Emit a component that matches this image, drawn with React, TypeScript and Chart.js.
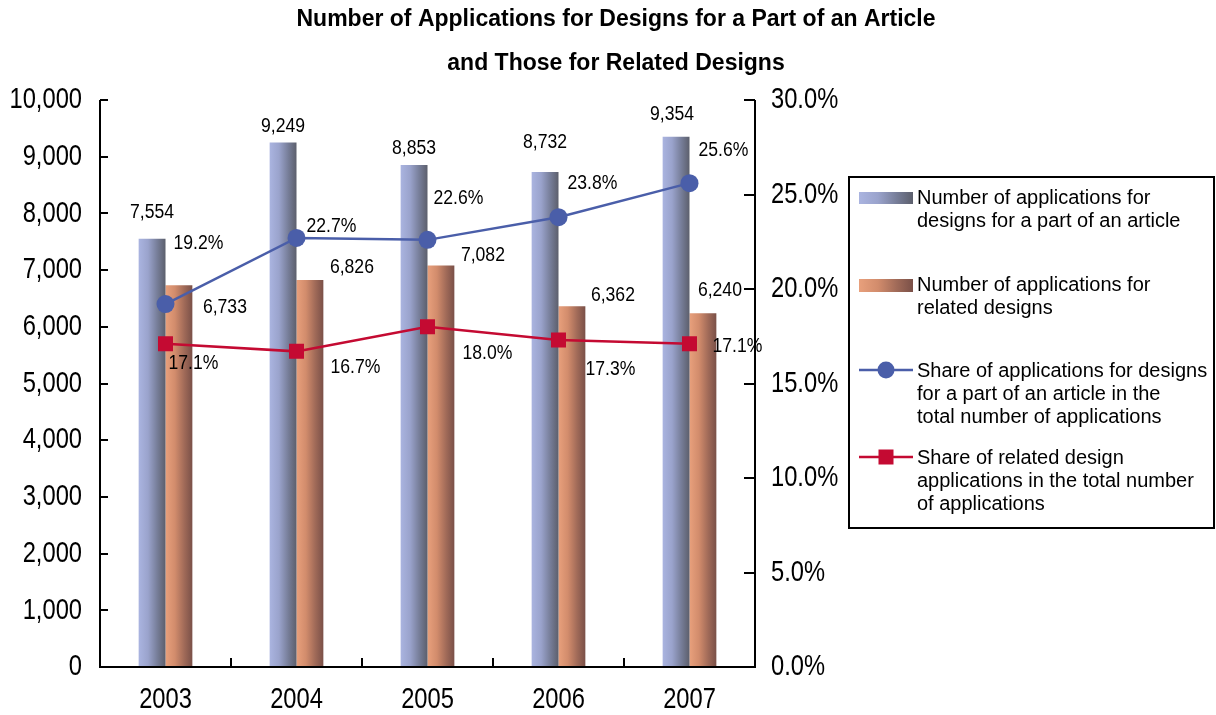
import React, { useEffect, useRef } from "react";
import { Chart, registerables } from "chart.js";

Chart.register(...registerables);

const categories = ["2003", "2004", "2005", "2006", "2007"];
const partArticleApps = [7554, 9249, 8853, 8732, 9354];
const relatedDesignApps = [6733, 6826, 7082, 6362, 6240];
const partArticleShare = [19.2, 22.7, 22.6, 23.8, 25.6];
const relatedShare = [17.1, 16.7, 18.0, 17.3, 17.1];

const titleLines = [
  "Number of Applications for Designs for a Part of an Article",
  "and Those for Related Designs",
];
const legendTexts = [
  ["Number of applications for", "designs for a part of an article"],
  ["Number of applications for", "related designs"],
  ["Share of applications for designs", "for a part of an article in the", "total number of applications"],
  ["Share of related design", "applications in the total number", "of applications"],
];

// label nudges (dx, dy from each mark's anchor to label centre)
const barLabelNudgeA = [[0, -26], [0, -16], [0, -17], [0, -29], [-4, -22]];
const barLabelNudgeB = [[46, 22], [42, -12], [42, -10], [41, -11], [17, -23]];
const lineLabelNudgeA = [[33, -61], [35, -11], [31, -41], [34, -34], [34, -33]];
const lineLabelNudgeB = [[28, 20], [59, 16], [60, 27], [52, 29], [48, 3]];

const CAT_PCT = 0.41;
const SANS = '"Liberation Sans", Arial, sans-serif';
const BLUE = "#4a5ea9";
const RED = "#c40a32";
const TICK_SX = 0.79;
const LABEL_SX = 0.88;

function blueGrad(ctx: CanvasRenderingContext2D, x0: number, x1: number) {
  const g = ctx.createLinearGradient(x0, 0, x1, 0);
  g.addColorStop(0, "#aab4e0");
  g.addColorStop(0.35, "#9aa3cc");
  g.addColorStop(0.7, "#767d98");
  g.addColorStop(1, "#5c5f6c");
  return g;
}
function orangeGrad(ctx: CanvasRenderingContext2D, x0: number, x1: number) {
  const g = ctx.createLinearGradient(x0, 0, x1, 0);
  g.addColorStop(0, "#e8a07c");
  g.addColorStop(0.35, "#d28c6c");
  g.addColorStop(0.7, "#a06a58");
  g.addColorStop(1, "#7a5048");
  return g;
}

function barFill(which: number) {
  return (c: any) => {
    const chart = c.chart;
    const xs = chart.scales && chart.scales.x;
    if (!xs || c.type !== "data" || !chart.chartArea) return which === 0 ? "#8d96c0" : "#c07c62";
    const center = xs.getPixelForValue(c.dataIndex);
    const w = (xs.width / categories.length) * CAT_PCT / 2;
    const left = which === 0 ? center - w : center;
    return which === 0 ? blueGrad(chart.ctx, left, left + w) : orangeGrad(chart.ctx, left, left + w);
  };
}

const fmt = (v: number) => v.toLocaleString("en-US");

function drawScaled(
  ctx: CanvasRenderingContext2D,
  text: string,
  x: number,
  y: number,
  align: CanvasTextAlign,
  sx: number
) {
  ctx.save();
  ctx.translate(x, y);
  ctx.scale(sx, 1);
  ctx.textAlign = align;
  ctx.textBaseline = "middle";
  ctx.fillText(text, 0, 0);
  ctx.restore();
}

const overlayPlugin = {
  id: "overlay",
  afterDatasetsDraw(chart: any) {
    const ctx = chart.ctx as CanvasRenderingContext2D;
    const { left, right, top, bottom } = chart.chartArea;
    const ys = chart.scales.y;
    const y1 = chart.scales.y1;
    const xs = chart.scales.x;
    ctx.save();
    ctx.strokeStyle = "#000";
    ctx.lineWidth = 2;
    ctx.beginPath();
    ctx.moveTo(left, top);
    ctx.lineTo(left, bottom);
    ctx.moveTo(left - 1, bottom);
    ctx.lineTo(right + 1, bottom);
    ctx.moveTo(right, top);
    ctx.lineTo(right, bottom);
    ys.ticks.forEach((t: any) => {
      const p = Math.round(ys.getPixelForValue(t.value));
      ctx.moveTo(left, p);
      ctx.lineTo(left + 8, p);
    });
    y1.ticks.forEach((t: any) => {
      const p = Math.round(y1.getPixelForValue(t.value));
      ctx.moveTo(right, p);
      ctx.lineTo(right - 11, p);
    });
    for (let i = 1; i < categories.length; i++) {
      const p = (xs.getPixelForValue(i - 1) + xs.getPixelForValue(i)) / 2;
      ctx.moveTo(p, bottom);
      ctx.lineTo(p, bottom - 9);
    }
    ctx.stroke();

    // tick labels
    ctx.fillStyle = "#000";
    ctx.font = `30px ${SANS}`;
    ys.ticks.forEach((t: any) => {
      drawScaled(ctx, fmt(t.value), left - 18, ys.getPixelForValue(t.value), "right", TICK_SX);
    });
    y1.ticks.forEach((t: any) => {
      drawScaled(ctx, Number(t.value).toFixed(1) + "%", right + 16, y1.getPixelForValue(t.value), "left", TICK_SX);
    });
    categories.forEach((c, i) => {
      drawScaled(ctx, c, xs.getPixelForValue(i), bottom + 33, "center", TICK_SX);
    });

    // data labels
    ctx.font = `20px ${SANS}`;
    const specs = [
      { ds: 0, nudge: barLabelNudgeA, text: (i: number) => fmt(partArticleApps[i]) },
      { ds: 1, nudge: barLabelNudgeB, text: (i: number) => fmt(relatedDesignApps[i]) },
      { ds: 2, nudge: lineLabelNudgeA, text: (i: number) => partArticleShare[i].toFixed(1) + "%" },
      { ds: 3, nudge: lineLabelNudgeB, text: (i: number) => relatedShare[i].toFixed(1) + "%" },
    ];
    specs.forEach((s) => {
      const meta = chart.getDatasetMeta(s.ds);
      meta.data.forEach((el: any, i: number) => {
        drawScaled(ctx, s.text(i), el.x + s.nudge[i][0], el.y + s.nudge[i][1], "center", LABEL_SX);
      });
    });
    ctx.restore();
  },
  afterDraw(chart: any) {
    const ctx = chart.ctx as CanvasRenderingContext2D;
    ctx.save();
    // title
    ctx.fillStyle = "#000";
    ctx.font = `bold 23px ${SANS}`;
    ctx.textAlign = "center";
    ctx.textBaseline = "middle";
    ctx.fillText(titleLines[0], 616, 20);
    ctx.fillText(titleLines[1], 616, 64);

    // legend
    const bx = chart.width - 367;
    const by = 177;
    ctx.strokeStyle = "#000";
    ctx.lineWidth = 2;
    ctx.strokeRect(bx, by, 365, 351);
    const sx = bx + 10;
    const sw = 54;
    const tx = bx + 68;
    const firstY = [198, 285, 371, 458];
    ctx.font = `20px ${SANS}`;
    ctx.textAlign = "left";
    legendTexts.forEach((lines, k) => {
      const y0 = firstY[k];
      lines.forEach((ln, j) => ctx.fillText(ln, tx, y0 + j * 23));
    });
    // swatches
    ctx.fillStyle = blueGrad(ctx, sx, sx + sw);
    ctx.fillRect(sx, 192, sw, 12);
    ctx.fillStyle = orangeGrad(ctx, sx, sx + sw);
    ctx.fillRect(sx, 279, sw, 13);
    ctx.lineWidth = 2.5;
    ctx.strokeStyle = BLUE;
    ctx.beginPath();
    ctx.moveTo(sx, 370);
    ctx.lineTo(sx + sw, 370);
    ctx.stroke();
    ctx.fillStyle = BLUE;
    ctx.beginPath();
    ctx.arc(sx + sw / 2, 370, 8.5, 0, Math.PI * 2);
    ctx.fill();
    ctx.strokeStyle = RED;
    ctx.beginPath();
    ctx.moveTo(sx, 457);
    ctx.lineTo(sx + sw, 457);
    ctx.stroke();
    ctx.fillStyle = RED;
    ctx.fillRect(sx + sw / 2 - 7.5, 457 - 7.5, 15, 15);
    ctx.restore();
  },
};

export default function App() {
  const ref = useRef<HTMLCanvasElement | null>(null);
  useEffect(() => {
    if (!ref.current) return;
    const chart = new Chart(ref.current, {
      type: "bar",
      data: {
        labels: categories,
        datasets: [
          {
            type: "bar",
            label: legendTexts[0].join(" "),
            data: partArticleApps,
            backgroundColor: barFill(0),
            borderWidth: 0,
            yAxisID: "y",
            order: 2,
            categoryPercentage: CAT_PCT,
            barPercentage: 1,
          },
          {
            type: "bar",
            label: legendTexts[1].join(" "),
            data: relatedDesignApps,
            backgroundColor: barFill(1),
            borderWidth: 0,
            yAxisID: "y",
            order: 2,
            categoryPercentage: CAT_PCT,
            barPercentage: 1,
          },
          {
            type: "line",
            label: legendTexts[2].join(" "),
            data: partArticleShare,
            borderColor: BLUE,
            backgroundColor: BLUE,
            borderWidth: 2.5,
            pointStyle: "circle",
            pointRadius: 9,
            pointBorderWidth: 0,
            yAxisID: "y1",
            order: 1,
          },
          {
            type: "line",
            label: legendTexts[3].join(" "),
            data: relatedShare,
            borderColor: RED,
            backgroundColor: RED,
            borderWidth: 2.5,
            pointStyle: "rect",
            pointRadius: 10.6,
            pointBorderWidth: 0,
            yAxisID: "y1",
            order: 0,
          },
        ],
      },
      options: {
        animation: false,
        responsive: true,
        maintainAspectRatio: false,
        layout: { padding: { left: 0, top: 100, right: 366, bottom: 0 } },
        plugins: {
          legend: { display: false },
          title: { display: false },
          tooltip: { enabled: false },
        },
        scales: {
          x: {
            type: "category",
            offset: true,
            grid: { display: false },
            border: { display: false },
            ticks: { display: false },
            afterFit: (s: any) => { s.height = 48; },
          },
          y: {
            position: "left",
            min: 0,
            max: 10000,
            grid: { display: false },
            border: { display: false },
            ticks: { display: false, stepSize: 1000 },
            afterFit: (s: any) => { s.width = 100; },
          },
          y1: {
            position: "right",
            min: 0,
            max: 30,
            grid: { display: false },
            border: { display: false },
            ticks: { display: false, stepSize: 5 },
            afterFit: (s: any) => { s.width = 95; },
          },
        },
      },
      plugins: [overlayPlugin],
    });
    return () => chart.destroy();
  }, []);
  return (
    <div style={{ position: "absolute", left: 0, top: 0, width: 1216, height: 715, background: "#fff" }}>
      <canvas ref={ref} />
    </div>
  );
}
